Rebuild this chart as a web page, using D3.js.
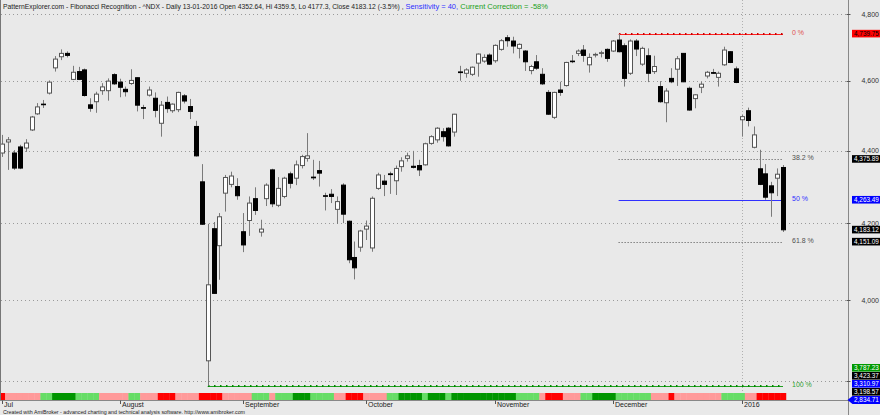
<!DOCTYPE html>
<html><head><meta charset="utf-8">
<script src="https://cdn.jsdelivr.net/npm/d3@7"></script>
<style>html,body{margin:0;padding:0;background:#e9e9e9;overflow:hidden;} svg{display:block;}</style>
</head><body>
<svg id="chart" width="880" height="415"></svg>
<script>
// ---------- data ----------
const dates = [
"2015-07-06","2015-07-07","2015-07-08","2015-07-09","2015-07-10","2015-07-13","2015-07-14","2015-07-15","2015-07-16","2015-07-17",
"2015-07-20","2015-07-21","2015-07-22","2015-07-23","2015-07-24","2015-07-27","2015-07-28","2015-07-29","2015-07-30","2015-07-31",
"2015-08-03","2015-08-04","2015-08-05","2015-08-06","2015-08-07","2015-08-10","2015-08-11","2015-08-12","2015-08-13","2015-08-14",
"2015-08-17","2015-08-18","2015-08-19","2015-08-20","2015-08-21","2015-08-24","2015-08-25","2015-08-26","2015-08-27","2015-08-28","2015-08-31",
"2015-09-01","2015-09-02","2015-09-03","2015-09-04","2015-09-08","2015-09-09","2015-09-10","2015-09-11","2015-09-14","2015-09-15",
"2015-09-16","2015-09-17","2015-09-18","2015-09-21","2015-09-22","2015-09-23","2015-09-24","2015-09-25","2015-09-28","2015-09-29","2015-09-30",
"2015-10-01","2015-10-02","2015-10-05","2015-10-06","2015-10-07","2015-10-08","2015-10-09","2015-10-12","2015-10-13","2015-10-14","2015-10-15",
"2015-10-16","2015-10-19","2015-10-20","2015-10-21","2015-10-22","2015-10-23","2015-10-26","2015-10-27","2015-10-28","2015-10-29","2015-10-30",
"2015-11-02","2015-11-03","2015-11-04","2015-11-05","2015-11-06","2015-11-09","2015-11-10","2015-11-11","2015-11-12","2015-11-13",
"2015-11-16","2015-11-17","2015-11-18","2015-11-19","2015-11-20","2015-11-23","2015-11-24","2015-11-25","2015-11-27","2015-11-30",
"2015-12-01","2015-12-02","2015-12-03","2015-12-04","2015-12-07","2015-12-08","2015-12-09","2015-12-10","2015-12-11","2015-12-14","2015-12-15",
"2015-12-16","2015-12-17","2015-12-18","2015-12-21","2015-12-22","2015-12-23","2015-12-24","2015-12-28","2015-12-29","2015-12-30","2015-12-31",
"2016-01-04","2016-01-05","2016-01-06","2016-01-07","2016-01-08","2016-01-11","2016-01-12","2016-01-13"];

const opens = [4393,4424,4393,4410,4407,4458,4504,4532,4564,4638,4671,4681,4604,4627,4632,4530,4539,4571,4571,4618,
4596,4575,4592,4609,4522,4558,4549,4477,4537,4513,4516,4556,4525,4468,4313,3848,4186,4141,4282,4306,4300,
4178,4208,4267,4177,4267,4346,4249,4273,4335,4323,4358,4378,4326,4344,4275,4279,4238,4304,4206,4110,4137,
4185,4135,4295,4315,4335,4316,4355,4378,4356,4358,4360,4420,4430,4453,4463,4452,4626,4622,4619,4652,4658,4676,
4659,4693,4728,4718,4696,4688,4630,4656,4619,4566,4494,4573,4586,4658,4681,4691,4647,4676,4681,4693,
4688,4721,4704,4622,4718,4649,4674,4627,4583,4536,4607,4634,4681,4578,4548,4581,4614,4624,4610,4647,4686,4635,
4487,4513,4409,4349,4335,4302,4323,4352.64];
const highs = [4444,4438,4401,4416,4432,4498,4535,4544,4601,4673,4693,4687,4644,4641,4636,4549,4568,4593,4607,4622,
4606,4583,4634,4610,4530,4583,4566,4541,4554,4534,4568,4561,4547,4484,4362,4199,4204,4228,4332,4341,4323,
4228,4273,4298,4210,4309,4349,4326,4327,4341,4372,4388,4449,4374,4371,4283,4293,4273,4309,4208,4152,4183,
4208,4273,4338,4332,4341,4358,4381,4394,4399,4374,4422,4443,4466,4463,4466,4504,4644,4637,4642,4681,4678,4681,
4708,4724,4736,4731,4711,4691,4647,4676,4637,4573,4568,4597,4656,4676,4693,4706,4681,4683,4689,4696,
4721,4739.75,4711,4723,4724,4701,4696,4674,4599,4578,4637,4673,4682,4583,4561,4597,4629,4635,4627,4701,4688,4642,
4501,4522,4468,4402,4362,4313,4350,4359.5];
const lows = [4382,4346,4346,4348,4396,4455,4501,4521,4560,4627,4661,4669,4602,4602,4554,4510,4507,4559,4542,4588,
4552,4554,4588,4511,4489,4554,4494,4439,4507,4507,4509,4534,4489,4383,4196,3787.23,4016,4052,4232,4298,4264,
4124,4167,4223,4165,4247,4244,4244,4268,4295,4304,4350,4369,4318,4300,4235,4255,4199,4201,4095,4053,4125,
4156,4125,4291,4274,4280,4277,4341,4369,4350,4329,4358,4416,4422,4425,4411,4439,4600,4609,4614,4612,4653,4647,
4653,4689,4701,4681,4666,4629,4619,4632,4588,4501,4489,4556,4583,4652,4673,4656,4624,4669,4669,4656,
4685,4684,4583,4617,4673,4644,4596,4620,4536,4480,4593,4585,4596,4513,4520,4564,4607,4620,4583,4644,4652,4593,
4439,4468,4406,4304,4264,4218,4274,4177.3];
const closes = [4418,4430,4351,4351,4421,4495,4524,4531,4596,4664,4681,4675,4625,4604,4557,4520,4561,4582,4599,4591,
4581,4568,4601,4529,4520,4573,4514,4529,4519,4532,4566,4541,4511,4385,4198,4039,4017,4218,4325,4329,4275,
4143,4255,4235,4185,4304,4253,4295,4323,4309,4360,4383,4385,4324,4337,4274,4273,4259,4225,4104,4083,4180,
4193,4268,4332,4306,4333,4350,4371,4385,4353,4346,4419,4439,4463,4439,4413,4503,4624,4632,4640,4679,4669,4649,
4705,4719,4719,4703,4708,4656,4642,4637,4591,4503,4566,4566,4654,4657,4688,4675,4669,4678,4683,4666,
4718,4686,4607,4718,4694,4696,4622,4642,4539,4570,4597,4665,4597,4515,4559,4590,4625,4622,4622,4691,4654,4595,
4496,4485,4444,4306,4271,4283,4334,4183.12];

// trend-state ribbon: [state, number of bars]  R=strong down, r=down, g=up, G=strong up
const stateRuns = [["R",1],["r",6],["g",2],["G",4],["g",4],["r",5],["g",2],["r",3],["R",3],["r",4],["R",4],["r",5],
["g",3],["r",1],["g",3],["G",3],["g",4],["r",2],["R",3],["r",4],["g",2],["G",4],["g",1],["G",3],["g",1],["G",11],
["g",4],["r",1],["R",3],["r",3],["g",2],["G",4],["g",6],["r",3],["R",1],["r",8],["g",4],["r",2],["R",5]];

const monthNames = ["Jul","August","September","October","November","December","2016"];
const yTickValues = [3800,4000,4200,4400,4600,4800];
const yTickLabels = [4000,4200,4400,4600,4800];
const fibLabels = ["0 %","38.2 %","50 %","61.8 %","100 %"];
const fibValues = [4739.75,4375.89,4263.49,4151.09,3787.23];
const extValues = [3423.37,3310.97,3198.57,2834.71];

const titleMain = "PatternExplorer.com - Fibonacci Recognition - ^NDX - Daily 13-01-2016 Open 4352.64, Hi 4359.5, Lo 4177.3, Close 4183.12 (-3.5%) , ";
const titleSens = "Sensitivity = 40, ";
const titleCorr = "Current Correction = -58%";
const footer = "Created with AmiBroker - advanced charting and technical analysis software. http://www.amibroker.com";

// ---------- layout ----------
const W = 880, H = 415;
const axisX = 848.5, baseY = 400.5;
const svg = d3.select("#chart");
const FONT = "'Liberation Sans', Arial, sans-serif";

const n = closes.length;
const x = d3.scaleLinear().domain([0, n - 1]).range([2.2, 783]);
const y = d3.scaleLog().domain([3800, 4800]).range([380.5, 14]);
const step = x(1) - x(0);
const px = v => Math.round(v) + 0.5;

svg.append("rect").attr("width", W).attr("height", H).attr("fill", "#e9e9e9");

// horizontal grid
svg.append("g").selectAll("line").data(yTickValues).join("line")
  .attr("x1", 1).attr("x2", axisX - 2)
  .attr("y1", d => px(y(d))).attr("y2", d => px(y(d)))
  .attr("stroke", "#9a9a9a").attr("stroke-dasharray", "1,3");

// month boundaries
const monthStarts = [];
dates.forEach((d, i) => { if (i === 0 || d.slice(0, 7) !== dates[i - 1].slice(0, 7)) monthStarts.push(i); });
const yearStart = dates.findIndex(d => d.startsWith("2016"));
svg.append("line").attr("x1", px(x(yearStart))).attr("x2", px(x(yearStart)))
  .attr("y1", 0).attr("y2", baseY).attr("stroke", "#b0b0b0").attr("stroke-dasharray", "1,2");

// trend ribbon
const states = [];
stateRuns.forEach(([s, c]) => { for (let k = 0; k < c; k++) states.push(s); });
const stateColor = {R: "#ff0000", r: "#ff9a9a", g: "#66dd66", G: "#009500"};
svg.append("g").selectAll("rect").data(states).join("rect")
  .attr("x", (d, i) => x(i) - step / 2).attr("width", step + 0.3)
  .attr("y", 393).attr("height", 7)
  .attr("fill", d => stateColor[d]);

// fibonacci lines
const hiIdx = highs.indexOf(d3.max(highs));
const loIdx = lows.indexOf(d3.min(lows));
const fibColors = ["#ff2020", "#505050", "#3030ff", "#505050", "#20a020"];
const fibText = ["#e05050", "#505050", "#3030ff", "#505050", "#30a030"];
fibValues.forEach((v, k) => {
  const x1 = k === 4 ? x(loIdx) : x(hiIdx);
  const yy = px(y(v));
  const ln = svg.append("line").attr("x1", x1).attr("x2", x(n - 1)).attr("y1", yy).attr("y2", yy)
    .attr("stroke", fibColors[k]);
  if (k === 1 || k === 3) ln.attr("stroke-dasharray", "1,2");
  if (k === 0 || k === 4) {
    const dots = d3.range(Math.ceil(x1), x(n - 1), 6);
    svg.append("g").selectAll("rect").data(dots).join("rect")
      .attr("x", d => d).attr("y", yy - 1.5).attr("width", 1.5).attr("height", 2)
      .attr("fill", k === 0 ? "#cc0000" : "#008800");
  }
  svg.append("text").attr("x", 792).attr("y", yy).attr("font-family", FONT).attr("font-size", 7)
    .attr("fill", fibText[k]).text(fibLabels[k]);
});
// 200% extension line clamped at the bottom
svg.append("line").attr("x1", x(hiIdx)).attr("x2", x(n - 1)).attr("y1", baseY).attr("y2", baseY)
  .attr("stroke", "#2020ff").attr("stroke-dasharray", "1,2");

// candles
const bars = d3.range(n);
const g = svg.append("g");
g.selectAll("line.wick").data(bars).join("line")
  .attr("x1", i => px(x(i))).attr("x2", i => px(x(i)))
  .attr("y1", i => y(highs[i])).attr("y2", i => y(lows[i]))
  .attr("stroke", "#7a7a7a");
g.selectAll("rect.body").data(bars).join("rect")
  .attr("x", i => Math.round(x(i)) - 1.5)
  .attr("width", 4)
  .attr("y", i => y(Math.max(opens[i], closes[i])))
  .attr("height", i => Math.max(0.6, y(Math.min(opens[i], closes[i])) - y(Math.max(opens[i], closes[i]))))
  .attr("fill", i => closes[i] >= opens[i] ? "#ffffff" : "#000000")
  .attr("stroke", i => closes[i] >= opens[i] ? "#555555" : "#000000")
  .attr("stroke-width", 1);

// axes lines
svg.append("line").attr("x1", 0.5).attr("x2", 0.5).attr("y1", 0).attr("y2", baseY).attr("stroke", "#777");
svg.append("line").attr("x1", axisX).attr("x2", axisX).attr("y1", 0).attr("y2", H).attr("stroke", "#888");
svg.append("line").attr("x1", 0).attr("x2", axisX).attr("y1", baseY).attr("y2", baseY).attr("stroke", "#888");

// right axis ticks + labels
const fmt = d3.format(",");
svg.append("g").selectAll("line").data(yTickValues).join("line")
  .attr("x1", axisX - 2).attr("x2", axisX + 2)
  .attr("y1", d => px(y(d))).attr("y2", d => px(y(d))).attr("stroke", "#555");
svg.append("g").selectAll("text").data(yTickLabels).join("text")
  .attr("x", 879).attr("y", d => y(d) + 2.5).attr("text-anchor", "end")
  .attr("font-family", FONT).attr("font-size", 7).attr("fill", "#333").text(d => fmt(d));

// price tags
const fmt2 = d3.format(",.2f");
const tags = [
  {v: fibValues[0], bg: "#ff0000", fg: "#000"},
  {v: fibValues[1], bg: "#000000", fg: "#fff"},
  {v: fibValues[2], bg: "#0000ff", fg: "#fff"},
  {v: closes[n - 1], bg: "#000000", fg: "#fff"},
  {v: fibValues[3], bg: "#000000", fg: "#fff"},
  {v: fibValues[4], bg: "#009900", fg: "#fff"},
  {v: extValues[0], bg: "#000000", fg: "#fff"},
  {v: extValues[1], bg: "#0000ff", fg: "#fff"},
  {v: extValues[2], bg: "#000000", fg: "#fff"},
  {v: extValues[3], bg: "#0000ff", fg: "#fff", arrow: true}
];
tags.forEach(t => t.ty = Math.min(y(t.v), baseY - 0.5));
tags.sort((a, b) => a.v - b.v);
for (let k = 1; k < tags.length; k++) if (tags[k].ty > tags[k - 1].ty - 8) tags[k].ty = tags[k - 1].ty - 8;
const tg = svg.append("g");
tags.forEach(t => {
  if (t.arrow) {
    tg.append("path").attr("d", `M${axisX - 1},${t.ty} L${axisX + 4},${t.ty - 4} L880,${t.ty - 4} L880,${t.ty + 4} L${axisX + 4},${t.ty + 4} Z`).attr("fill", t.bg);
  } else {
    tg.append("rect").attr("x", 852).attr("y", t.ty - 4).attr("width", 30).attr("height", 7.6).attr("fill", t.bg);
  }
  tg.append("text").attr("x", 854).attr("y", t.ty + 2.3).attr("font-family", FONT).attr("font-size", 6.4)
    .attr("fill", t.fg).text(fmt2(t.v));
});

// month labels
const mg = svg.append("g");
monthStarts.forEach((i, k) => {
  const xx = px(x(i));
  mg.append("line").attr("x1", xx).attr("x2", xx).attr("y1", baseY).attr("y2", 404).attr("stroke", "#555");
  mg.append("text").attr("x", xx + 1.5).attr("y", 407).attr("font-family", FONT).attr("font-size", 7)
    .attr("fill", "#222").text(monthNames[k]);
});

// title
const title = svg.append("text").attr("x", 3).attr("y", 8.5).attr("font-family", FONT).attr("fill", "#222");
title.append("tspan").attr("font-size", 6.75).text(titleMain);
title.append("tspan").attr("font-size", 7.5).attr("fill", "#3030ff").text(titleSens);
title.append("tspan").attr("font-size", 7.5).attr("fill", "#20a020").text(titleCorr);

svg.append("text").attr("x", 3).attr("y", 413.5).attr("font-family", FONT).attr("font-size", 5.3)
  .attr("fill", "#222").text(footer);
</script>
</body></html>
